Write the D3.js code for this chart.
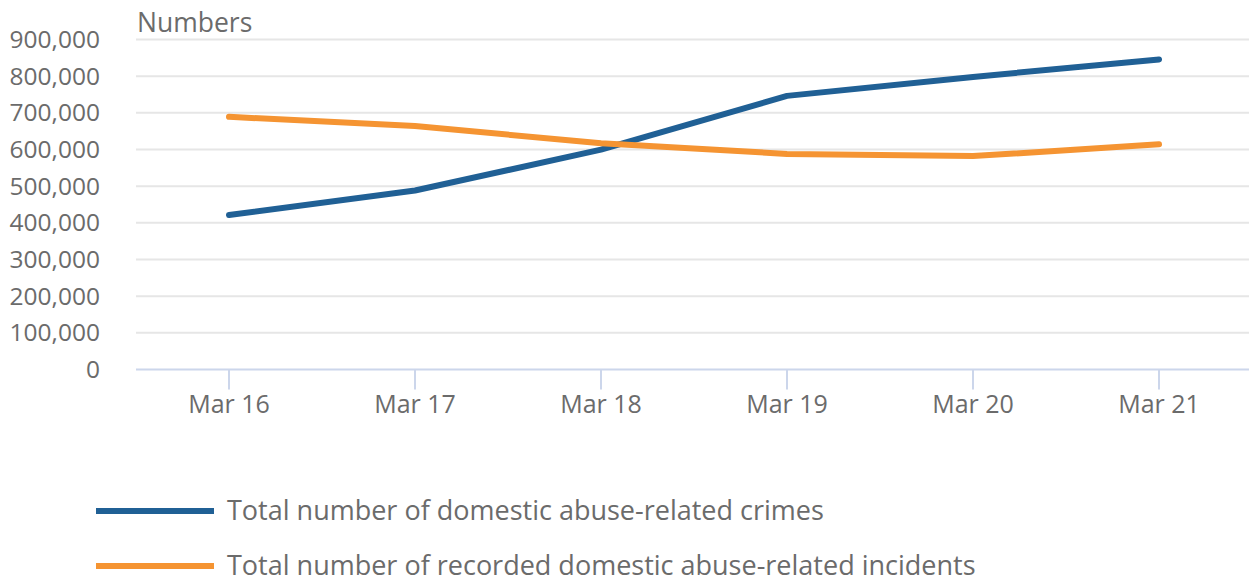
<!DOCTYPE html>
<html><head><meta charset="utf-8">
<script src="https://cdn.jsdelivr.net/npm/d3@7"></script>
<style>body{margin:0;background:#fff;}svg{display:block;font-family:"Open Sans",sans-serif;}</style>
</head><body><svg id="c" width="1249" height="580"></svg>
<script>
const categories = ["Mar 16","Mar 17","Mar 18","Mar 19","Mar 20","Mar 21"];
const crimes = [421185, 488049, 599549, 746219, 798000, 845734];
const incidents = [689000, 664000, 617000, 588000, 582000, 614000];
const yTicks = [0,100000,200000,300000,400000,500000,600000,700000,800000,900000];
const seriesNames = ["Total number of domestic abuse-related crimes","Total number of recorded domestic abuse-related incidents"];
const colors = ["#206095","#f59432"];
const yLabel = "Numbers";

(function(){
const svg = d3.select("#c");
const pLeft = 136, pRight = 1252, pTop = 39.5, pBottom = 369.5;
const x = d3.scaleBand().domain(categories).range([pLeft, pRight]);
const y = d3.scaleLinear().domain([0, 900000]).range([pBottom, pTop]);
const fmt = d3.format(",");
const textColor = "#6b6b6b";

svg.append("g").selectAll("line").data(yTicks.filter(d=>d>0)).join("line")
  .attr("x1", pLeft).attr("x2", 1249).attr("y1", d=>y(d)).attr("y2", d=>y(d))
  .attr("stroke", "#e6e6e6").attr("stroke-width", 2);

svg.append("g").selectAll("text").data(yTicks).join("text")
  .attr("x", 100).attr("y", d=>y(d)).attr("dy", "0.35em")
  .attr("text-anchor", "end").attr("font-size", 24.5).attr("fill", textColor)
  .text(d=>fmt(d));

svg.append("text").attr("x", 137).attr("y", 32).attr("font-size", 26.5).attr("fill", textColor).text(yLabel);

const xAxis = svg.append("g").attr("transform", `translate(0,${pBottom})`)
  .call(d3.axisBottom(x).tickSize(20).tickPadding(6));
xAxis.select(".domain").attr("stroke", "#ccd6eb").attr("stroke-width", 2).attr("d", `M${pLeft},0H1249`);
xAxis.selectAll(".tick line").attr("stroke", "#ccd6eb").attr("stroke-width", 2);
xAxis.selectAll(".tick text").attr("font-size", 25).attr("fill", textColor).attr("font-family", "Open Sans");

const cx = d => x(d) + x.bandwidth()/2;
const line = d3.line().x((d,i)=>cx(categories[i])).y(d=>y(d));
[crimes, incidents].forEach((s, k) => {
  svg.append("path").datum(s).attr("d", line).attr("fill", "none")
    .attr("stroke", colors[k]).attr("stroke-width", 6)
    .attr("stroke-linecap", "round").attr("stroke-linejoin", "round");
});

seriesNames.forEach((n, k) => {
  const ly = 511 + k*55;
  svg.append("line").attr("x1", 96).attr("x2", 214).attr("y1", ly).attr("y2", ly)
    .attr("stroke", colors[k]).attr("stroke-width", 6);
  svg.append("text").attr("x", 227).attr("y", ly).attr("dy", "0.35em")
    .attr("font-size", 27).attr("fill", textColor).text(n);
});
})();
</script></body></html>
